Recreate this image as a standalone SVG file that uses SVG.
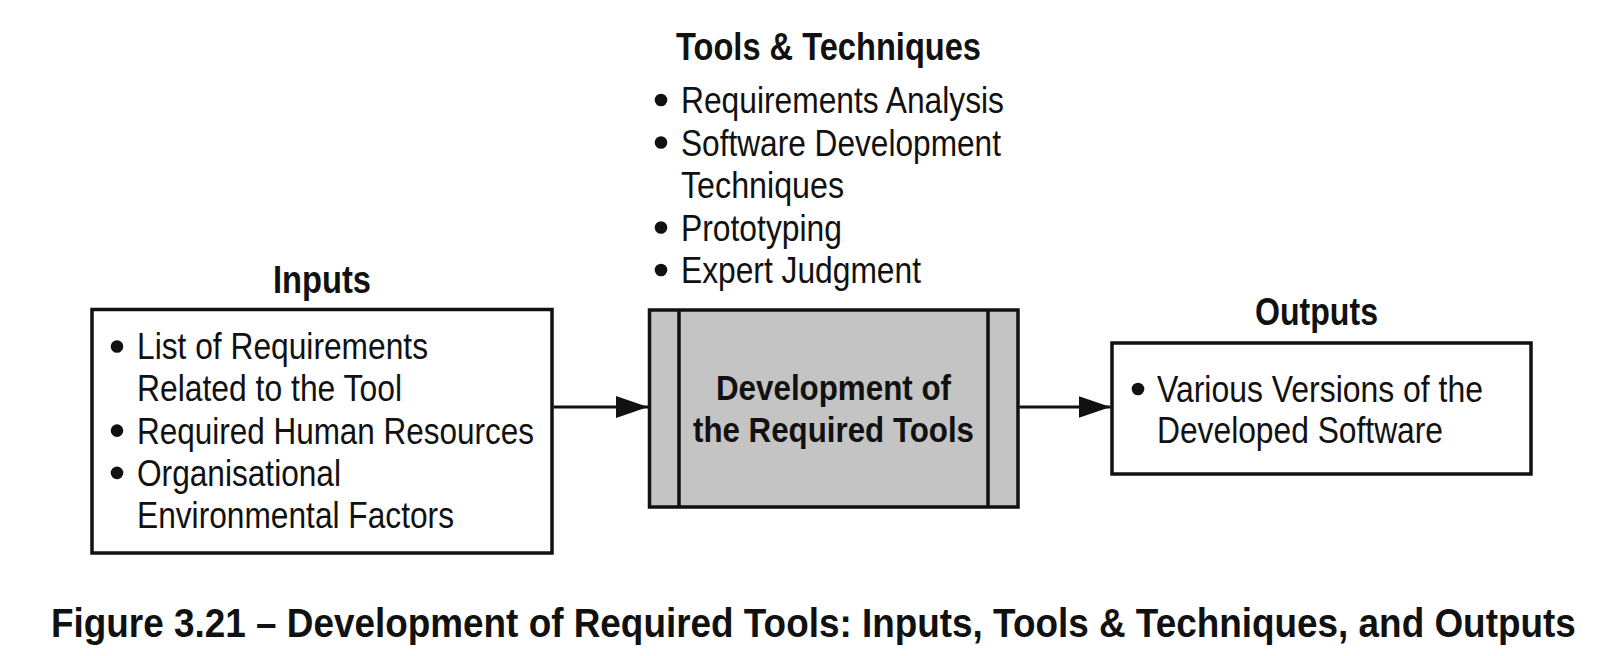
<svg xmlns="http://www.w3.org/2000/svg" width="1601" height="656" viewBox="0 0 1601 656">
  <defs>
    <style>
      text { font-family: 'Liberation Sans Narrow', 'Liberation Sans', Arial, sans-serif; fill: #111; }
      .hdr { font-size: 39px; font-weight: bold; text-anchor: middle; }
      .body { font-size: 37px; }
      .ctr { font-size: 35px; font-weight: bold; text-anchor: middle; }
      .cap { font-size: 36.9px; font-weight: bold; }
      .box { fill: #fff; stroke: #111; stroke-width: 3.5; }
      .proc { fill: #c4c4c4; stroke: #111; stroke-width: 3.5; }
      .bar { stroke: #111; stroke-width: 3.5; }
      .bul { fill: #111; }
      .conn { stroke: #111; stroke-width: 3; fill: none; }
    </style>
    <marker id="arrow" viewBox="0 0 32 22" refX="32" refY="11" markerWidth="32" markerHeight="22" markerUnits="userSpaceOnUse" orient="auto">
      <path d="M0,0 L32,11 L0,22 Z" fill="#111"/>
    </marker>
  </defs>
  <rect width="1601" height="656" fill="#fff"/>

  <g id="tools-techniques">
    <text class="hdr" x="828.5" y="60" textLength="305" lengthAdjust="spacingAndGlyphs">Tools &amp; Techniques</text>
    <circle class="bul" cx="661" cy="100" r="6.3"/>
    <text class="body" x="681" y="113" textLength="323" lengthAdjust="spacingAndGlyphs">Requirements Analysis</text>
    <circle class="bul" cx="661" cy="142.5" r="6.3"/>
    <text class="body" x="681" y="155.5" textLength="320" lengthAdjust="spacingAndGlyphs">Software Development</text>
    <text class="body" x="681" y="198" textLength="163" lengthAdjust="spacingAndGlyphs">Techniques</text>
    <circle class="bul" cx="661" cy="227.5" r="6.3"/>
    <text class="body" x="681" y="240.5" textLength="161" lengthAdjust="spacingAndGlyphs">Prototyping</text>
    <circle class="bul" cx="661" cy="270" r="6.3"/>
    <text class="body" x="681" y="283" textLength="240" lengthAdjust="spacingAndGlyphs">Expert Judgment</text>
  </g>

  <g id="inputs">
    <text class="hdr" x="322" y="293" textLength="98" lengthAdjust="spacingAndGlyphs">Inputs</text>
    <rect class="box" x="92" y="309.5" width="460" height="243.5"/>
    <circle class="bul" cx="117" cy="346.5" r="6.3"/>
    <text class="body" x="137" y="359" textLength="291" lengthAdjust="spacingAndGlyphs">List of Requirements</text>
    <text class="body" x="137" y="401.3" textLength="265" lengthAdjust="spacingAndGlyphs">Related to the Tool</text>
    <circle class="bul" cx="117" cy="430.6" r="6.3"/>
    <text class="body" x="137" y="443.6" textLength="397" lengthAdjust="spacingAndGlyphs">Required Human Resources</text>
    <circle class="bul" cx="117" cy="472.9" r="6.3"/>
    <text class="body" x="137" y="485.9" textLength="204" lengthAdjust="spacingAndGlyphs">Organisational</text>
    <text class="body" x="137" y="528.2" textLength="317" lengthAdjust="spacingAndGlyphs">Environmental Factors</text>
  </g>

  <g id="process">
    <rect class="proc" x="649.5" y="310" width="368.5" height="197"/>
    <line class="bar" x1="679" y1="310" x2="679" y2="507"/>
    <line class="bar" x1="988" y1="310" x2="988" y2="507"/>
    <text class="ctr" x="833.5" y="400" textLength="235" lengthAdjust="spacingAndGlyphs">Development of</text>
    <text class="ctr" x="833.5" y="442" textLength="281" lengthAdjust="spacingAndGlyphs">the Required Tools</text>
  </g>

  <g id="outputs">
    <text class="hdr" x="1316.5" y="325" textLength="123" lengthAdjust="spacingAndGlyphs">Outputs</text>
    <rect class="box" x="1112" y="343" width="419" height="131"/>
    <circle class="bul" cx="1138" cy="389" r="6.3"/>
    <text class="body" x="1157" y="402" textLength="326" lengthAdjust="spacingAndGlyphs">Various Versions of the</text>
    <text class="body" x="1157" y="443" textLength="286" lengthAdjust="spacingAndGlyphs">Developed Software</text>
  </g>

  <g id="connectors">
    <line class="conn" x1="553.5" y1="407" x2="648" y2="407" marker-end="url(#arrow)"/>
    <line class="conn" x1="1019.5" y1="407" x2="1110.5" y2="407" marker-end="url(#arrow)"/>
  </g>

  <g id="caption">
    <text class="cap" transform="translate(51,637) scale(1,1.11)" x="0" y="0">Figure 3.21 – Development of Required Tools: Inputs, Tools &amp; Techniques, and Outputs</text>
  </g>
</svg>
